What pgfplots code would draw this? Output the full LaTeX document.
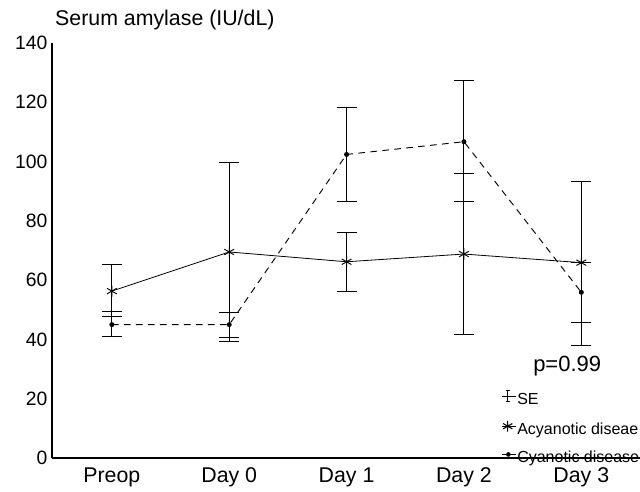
\documentclass[border=0pt]{standalone}
\usepackage{pgfplots}
\pgfplotsset{compat=1.18}
\usepackage{fontspec}
\setmainfont{Liberation Sans}
\begin{document}
\begin{tikzpicture}
\begin{axis}[
  scale only axis, width=441pt, height=311.25pt,
  xmin=-0.51, xmax=4.50, ymin=0, ymax=140,
  axis lines*=left, axis line style={-, line width=0.8pt},
  xtick={0,1,2,3,4}, xticklabels={Preop,Day 0,Day 1,Day 2,Day 3},
  ytick={0,20,...,140},
  major tick length=0pt,
  tick label style={/pgf/number format/assume math mode=true},
  yticklabel style={font=\fontsize{14.5}{16}\selectfont},
  xticklabel style={font=\fontsize{16}{18}\selectfont, yshift=-3.5pt},
  clip=false,
  legend cell align=left,
  legend style={at={(rel axis cs:0.765,0.164)}, anchor=north west, draw=none, fill=none,
    inner sep=0pt, row sep=11pt, font=\fontsize{12}{14}\selectfont,
    nodes={inner xsep=1pt, inner ysep=0pt}},
  /tikz/every even column/.style={column sep=0pt},
  error bars/y dir=both, error bars/y explicit,
  error bars/error bar style={line width=0.8pt, solid},
  error bars/error mark options={rotate=90, mark size=7.5pt, line width=0.8pt, solid},
]
\addlegendimage{legend image code/.code={\begin{scope}[yshift=2.5pt]\draw[line width=0.7pt] (4pt,-4.2pt)--(4pt,4.2pt) (2.6pt,-4.2pt)--(5.4pt,-4.2pt) (2.6pt,4.2pt)--(5.4pt,4.2pt); \path (0pt,0pt)--(10pt,0pt);\end{scope}}}
\addlegendentry{SE}
\addlegendimage{legend image code/.code={\begin{scope}[yshift=2.5pt]\draw[mark=asterisk, mark size=4pt, line width=0.8pt] plot coordinates {(4pt,0pt)}; \path (0pt,0pt)--(10pt,0pt);\end{scope}}}
\addlegendentry{Acyanotic diseae}
\addlegendimage{legend image code/.code={\begin{scope}[yshift=2.5pt]\draw[line width=0.7pt] (0.8pt,0pt)--(2.6pt,0pt); \fill (4.5pt,0pt) circle (1.5pt); \path (0pt,0pt)--(10pt,0pt);\end{scope}}}
\addlegendentry{Cyanotic disease}

% Acyanotic: solid line, asterisks
\addplot[forget plot, black, line width=0.6pt, mark=asterisk, mark size=4.2pt, mark options={line width=0.7pt}]
coordinates {
 (0,56.3) += (0,8.9) -= (0,8.6)
 (1,69.5) += (0,30.3) -= (0,30.2)
 (2,66.2) += (0,9.8) -= (0,9.9)
 (3,68.8) += (0,27.2) -= (0,27.1)
 (4,65.9) += (0,27.3) -= (0,28.1)
};
% Cyanotic: dashed line, dots
\addplot[forget plot, black, line width=0.7pt, dash pattern=on 5pt off 4pt, mark=*, mark size=1.5pt, mark options={solid}]
coordinates {
 (0,45.0) += (0,4.4) -= (0,4.1)
 (1,45.0) += (0,4.2) -= (0,4.4)
 (2,102.4) += (0,15.8) -= (0,15.8)
 (3,106.7) += (0,20.6) -= (0,20.1)
 (4,55.9) += (0,10.0) -= (0,10.1)
};

\node[anchor=base west, inner sep=0pt, font=\fontsize{16}{18}\selectfont] at (rel axis cs:0.005,1.043) {Serum amylase (IU/dL)};
\node[anchor=base west, inner sep=0pt, font=\fontsize{16.5}{18}\selectfont] at (rel axis cs:0.818,0.208) {p=0.99};
\end{axis}
\pgfresetboundingbox
\useasboundingbox (-39pt,-25.5pt) rectangle (441pt,343.5pt);
\end{tikzpicture}
\end{document}
